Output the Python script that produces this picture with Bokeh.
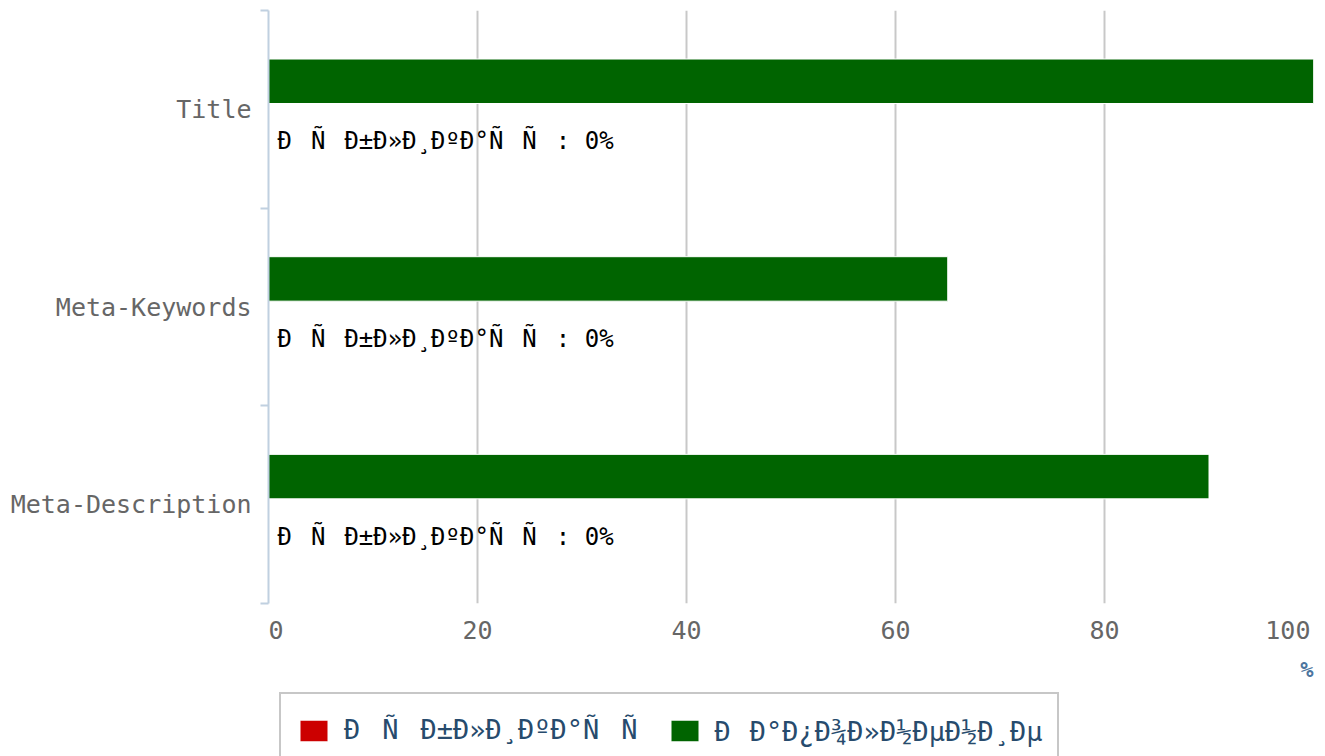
from bokeh.plotting import figure
from bokeh.layouts import column
from bokeh.models import (Range1d, FixedTicker, ColumnDataSource, Legend, LegendItem, Title)
from bokeh.core.properties import value
from bokeh.embed import file_html
from bokeh.resources import INLINE

categories = ["Title", "Meta-Keywords", "Meta-Description"]
fill_values = [100, 65, 90]
pub_values = [0, 0, 0]
series_names = ["Ð\x9fÑ\x83Ð±Ð»Ð¸ÐºÐ°Ñ\x86Ñ\x8f", "Ð\x97Ð°Ð¿Ð¾Ð»Ð½ÐµÐ½Ð¸Ðµ"]
series_colors = ["#CC0000", "#006400"]
x_ticks = [0, 20, 40, 60, 80, 100]
x_title = "%"

FONT = "DejaVu Sans Mono"
n = len(categories)
OFF = 0.142
H = 0.225
ypos = [n - 0.5 - i for i in range(n)]

src = ColumnDataSource(dict(
    cat=categories,
    yg=[y + OFF for y in ypos],
    yr=[y - OFF for y in ypos],
    fill=fill_values,
    pub=pub_values,
    zero=[0] * n,
    lab=[f"{series_names[0]}: {v}%" for v in pub_values],
))

p = figure(width=1325, height=690,
           y_range=Range1d(0, n), x_range=Range1d(0, 100),
           output_backend="svg", toolbar_location=None,
           min_border_left=268, min_border_right=12,
           min_border_top=10, min_border_bottom=87)
p.outline_line_color = None
p.background_fill_color = "white"

ya = p.yaxis[0]
ya.ticker = FixedTicker(ticks=ypos, minor_ticks=list(range(n + 1)))
ya.major_label_overrides = {y: c for y, c in zip(ypos, categories)}
ya.major_tick_out = 0
ya.major_tick_in = 0
ya.minor_tick_out = 8
ya.minor_tick_in = 0
ya.major_tick_line_color = None
ya.minor_tick_line_color = "#C0D0E0"
ya.minor_tick_line_width = 2
ya.axis_line_color = "#C0D0E0"
ya.axis_line_width = 2
ya.major_label_standoff = 9
ya.major_label_text_font = FONT
ya.major_label_text_font_size = "25px"
ya.major_label_text_color = "#666666"

xa = p.xaxis[0]
xa.ticker = FixedTicker(ticks=x_ticks, minor_ticks=[])
xa.axis_line_color = None
xa.major_tick_line_color = None
xa.minor_tick_line_color = None
xa.major_label_text_font = FONT
xa.major_label_text_font_size = "25px"
xa.major_label_text_color = "#666666"
xa.major_label_standoff = 6
xa.major_label_overrides = {0: "\u00a00", 100: "100\u00a0"}

p.add_layout(Title(text=x_title, align="right", text_font=FONT, text_font_size="22px",
                   text_font_style="bold", text_color="#4D759E", standoff=14), "below")

p.xgrid.ticker = FixedTicker(ticks=x_ticks, minor_ticks=[])
p.xgrid.grid_line_color = "#C8C8C8"
p.xgrid.grid_line_width = 2
p.ygrid.visible = False

p.hbar(y="yg", left="zero", right="fill", height=H,
       source=src, fill_color=series_colors[1], line_color="white", line_width=1)
p.hbar(y="yr", left="zero", right="pub", height=H,
       source=src, fill_color=series_colors[0], line_color="white", line_width=1)

p.text(x="pub", y="yr", text="lab", source=src,
       x_offset=9, y_offset=4, text_baseline="middle", text_align="left",
       text_font=value(FONT), text_font_size="24px", text_color="black")

# legend strip below the chart (same series, drawn out of view)
pl = figure(width=1325, height=66, x_range=Range1d(0, 100), y_range=Range1d(100, 200),
            output_backend="svg", toolbar_location=None,
            x_axis_location=None, y_axis_location=None,
            min_border_left=0, min_border_right=0, min_border_top=0, min_border_bottom=0)
pl.outline_line_color = None
pl.xgrid.visible = False
pl.ygrid.visible = False
lg = pl.hbar(y="yg", left="zero", right="fill", height=H,
             source=src, fill_color=series_colors[1], line_color="white", line_width=1)
lr = pl.hbar(y="yr", left="zero", right="pub", height=H,
             source=src, fill_color=series_colors[0], line_color="white", line_width=1)

legend = Legend(items=[LegendItem(label=series_names[0], renderers=[lr]),
                       LegendItem(label=series_names[1], renderers=[lg])],
                orientation="horizontal", location=(11, -12),
                border_line_color="#909090", border_line_width=2,
                background_fill_color="white", background_fill_alpha=1,
                padding=15, spacing=7, label_standoff=13, margin=0,
                glyph_width=35, glyph_height=27,
                label_text_font=FONT, label_text_font_size="27px",
                label_text_color="#274B6D")
pl.add_layout(legend, "center")

layout = column(p, pl, spacing=0)
open("out.html", "w").write(file_html(layout, INLINE))
